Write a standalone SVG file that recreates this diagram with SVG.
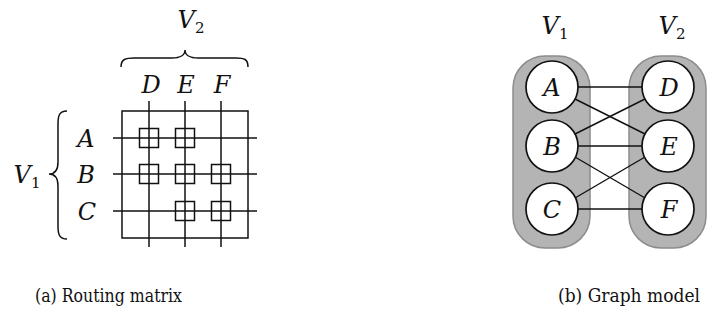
<svg xmlns="http://www.w3.org/2000/svg" width="709" height="336" viewBox="0 0 709 336">
<style>
text{font-family:'DejaVu Serif','Liberation Serif',serif}
.lbl{font-style:italic;font-size:24px;fill:#111;text-anchor:middle}
.sub{font-style:normal;font-size:15px}
.cap{font-size:18px;fill:#111}
.ln{stroke:#111;stroke-width:1.5;fill:none}
.sq{stroke:#111;stroke-width:1.5;fill:none}
.pill{fill:#b4b4b4;stroke:#8c8c8c;stroke-width:1.5}
.node{fill:#fff;stroke:#111;stroke-width:1.7}
.edge{stroke:#111;stroke-width:1.4}
</style>
<rect width="709" height="336" fill="#fff"/>

<g id="matrix">
  <rect class="ln" x="122" y="111" width="126" height="127"/>
  <line class="ln" x1="149" y1="101" x2="149" y2="247"/>
  <line class="ln" x1="185" y1="101" x2="185" y2="247"/>
  <line class="ln" x1="221" y1="101" x2="221" y2="247"/>
  <line class="ln" x1="113" y1="138" x2="257" y2="138"/>
  <line class="ln" x1="113" y1="174" x2="257" y2="174"/>
  <line class="ln" x1="113" y1="211" x2="257" y2="211"/>
  <rect class="sq" x="139.5" y="128.5" width="19" height="19"/>
  <rect class="sq" x="175.5" y="128.5" width="19" height="19"/>
  <rect class="sq" x="139.5" y="164.5" width="19" height="19"/>
  <rect class="sq" x="175.5" y="164.5" width="19" height="19"/>
  <rect class="sq" x="211.5" y="164.5" width="19" height="19"/>
  <rect class="sq" x="175.5" y="201.5" width="19" height="19"/>
  <rect class="sq" x="211.5" y="201.5" width="19" height="19"/>
</g>
<g id="matrix-labels">
  <text class="lbl" x="151" y="93">D</text>
  <text class="lbl" x="186" y="93">E</text>
  <text class="lbl" x="222" y="93">F</text>
  <text class="lbl" x="86" y="147">A</text>
  <text class="lbl" x="86" y="183">B</text>
  <text class="lbl" x="87" y="220">C</text>
  <text class="lbl" x="191" y="28">V<tspan class="sub" dy="5">2</tspan></text>
  <text class="lbl" x="27" y="183">V<tspan class="sub" dy="5">1</tspan></text>
</g>
<g id="braces">
  <path class="ln" d="M67 111 C59 111 58 116 58 124 L58 162 C58 170 55 174 49 174 C55 174 58 178 58 186 L58 226 C58 234 59 239 67 239"/>
  <path class="ln" d="M121 67 C121 59 126 58 134 58 L172 58 C180 58 185 55 185 50 C185 55 190 58 198 58 L236 58 C244 58 248 59 248 67"/>
</g>

<g id="group-V1">
  <rect class="pill" x="513" y="56" width="77" height="192" rx="32" ry="32"/>
  <text class="lbl" x="555" y="34">V<tspan class="sub" dy="5">1</tspan></text>
</g>
<g id="group-V2">
  <rect class="pill" x="629" y="56" width="77" height="192" rx="32" ry="32"/>
  <text class="lbl" x="672" y="34">V<tspan class="sub" dy="5">2</tspan></text>
</g>

<g id="edges">
  <line class="edge" x1="578" y1="87" x2="642" y2="87"/>
  <line class="edge" x1="575" y1="99" x2="645" y2="134"/>
  <line class="edge" x1="575" y1="134" x2="645" y2="99"/>
  <line class="edge" x1="578" y1="146" x2="642" y2="146"/>
  <line class="edge" x1="575" y1="157" x2="645" y2="198"/>
  <line class="edge" x1="575" y1="198" x2="645" y2="157"/>
  <line class="edge" x1="578" y1="209" x2="642" y2="209"/>
</g>

<g id="node-A"><circle class="node" cx="552" cy="87" r="26"/><text class="lbl" x="552" y="96">A</text></g>
<g id="node-B"><circle class="node" cx="552" cy="146" r="26"/><text class="lbl" x="552" y="155">B</text></g>
<g id="node-C"><circle class="node" cx="552" cy="209" r="26"/><text class="lbl" x="552" y="218">C</text></g>
<g id="node-D"><circle class="node" cx="668" cy="87" r="26"/><text class="lbl" x="669" y="96">D</text></g>
<g id="node-E"><circle class="node" cx="668" cy="146" r="26"/><text class="lbl" x="669" y="155">E</text></g>
<g id="node-F"><circle class="node" cx="668" cy="209" r="26"/><text class="lbl" x="669" y="218">F</text></g>

<g id="captions">
  <text class="cap" x="35" y="302" textLength="147" lengthAdjust="spacingAndGlyphs">(a) Routing matrix</text>
  <text class="cap" x="558" y="302" textLength="142" lengthAdjust="spacingAndGlyphs">(b) Graph model</text>
</g>
</svg>
